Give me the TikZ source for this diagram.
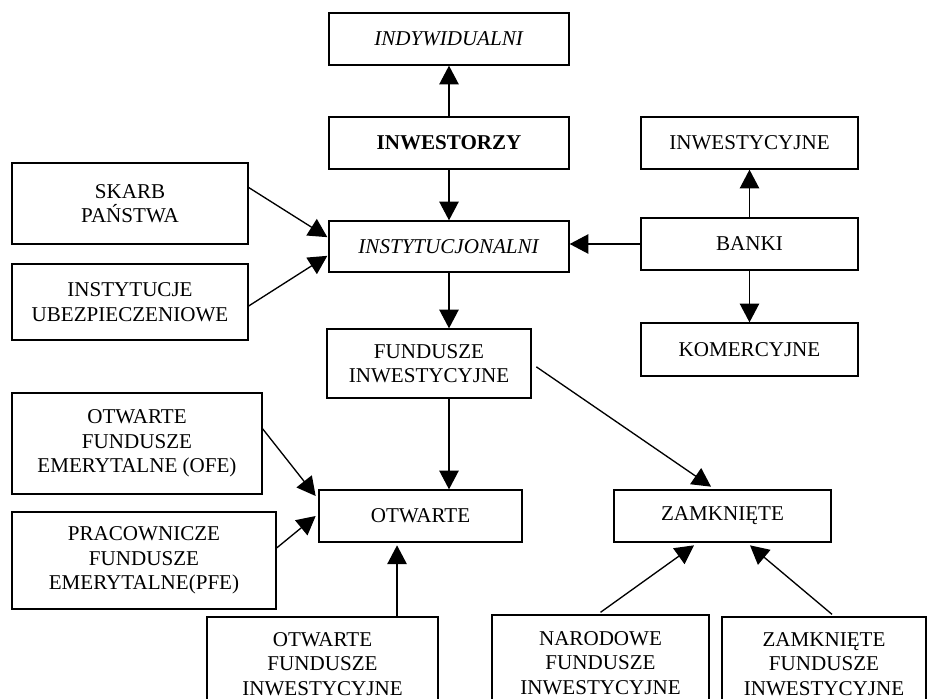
\documentclass[tikz,border=0pt]{standalone}
\usepackage{fontspec}
\setmainfont{Liberation Serif}
\usetikzlibrary{arrows.meta}

\tikzset{
  box/.style={draw, line width=1pt, inner sep=0pt, align=center,
    font=\fontsize{15.8}{18.4}\selectfont},
  arr/.style={line width=1pt, -{Triangle[length=14pt, width=14.5pt]}}
}

\begin{document}
\begin{tikzpicture}[x=0.75pt, y=-0.75pt]
  \clip (0,0) rectangle (928,699);

  % investors
  \node[box, minimum width=180pt, minimum height=39pt] (indyw) at (449,39) {\textit{INDYWIDUALNI}};
  \node[box, minimum width=180pt, minimum height=39pt] (inwest) at (449,143) {\textbf{INWESTORZY}};
  \node[box, minimum width=180pt, minimum height=38.25pt] (inst) at (449,246.5) {\textit{INSTYTUCJONALNI}};
  \node[box, minimum width=177pt, minimum height=60.75pt] (skarb) at (130,203.5) {SKARB\\PAŃSTWA};
  \node[box, minimum width=177pt, minimum height=57pt] (ubezp) at (130,302) {INSTYTUCJE\\UBEZPIECZENIOWE};

  % banks
  \node[box, minimum width=162.75pt, minimum height=39pt] (binw) at (749.5,143) {INWESTYCYJNE};
  \node[box, minimum width=162.75pt, minimum height=39pt] (banki) at (749.5,244) {BANKI};
  \node[box, minimum width=162.75pt, minimum height=39.75pt] (komerc) at (749.5,349.5) {KOMERCYJNE};

  % funds
  \node[box, minimum width=153pt, minimum height=51.75pt] (fund) at (429,363.5) {FUNDUSZE\\INWESTYCYJNE};
  \node[box, minimum width=187.5pt, minimum height=75.75pt] (ofe) at (137,443.5) {OTWARTE\\FUNDUSZE\\EMERYTALNE (OFE)};
  \node[box, minimum width=198pt, minimum height=72.75pt] (pfe) at (144,560.5) {PRACOWNICZE\\FUNDUSZE\\EMERYTALNE(PFE)};
  \node[box, minimum width=152.25pt, minimum height=39pt] (otw) at (420.5,516) {OTWARTE};
  \node[box, minimum width=162.75pt, minimum height=39pt] (zamk) at (722.5,516) {ZAMKNIĘTE};
  \node[box, minimum width=173.25pt, minimum height=70.5pt] (otwfi) at (322.5,664) {OTWARTE\\FUNDUSZE\\INWESTYCYJNE};
  \node[box, minimum width=162.75pt, minimum height=72pt] (nar) at (600.5,663) {NARODOWE\\FUNDUSZE\\INWESTYCYJNE};
  \node[box, minimum width=153pt, minimum height=70.5pt] (zfi) at (824,664) {ZAMKNIĘTE\\FUNDUSZE\\INWESTYCYJNE};

  % arrows
  \draw[arr] (inwest.north) -- (indyw.south);
  \draw[arr] (inwest.south) -- (inst.north);
  \draw[arr] ([yshift=12pt]skarb.east) -- ([xshift=-0.75pt, yshift=7pt]inst.west);
  \draw[arr] ([yshift=-3pt]ubezp.east) -- ([xshift=-0.75pt, yshift=-7pt]inst.west);
  \draw[arr] (banki.west) -- (banki.west -| inst.east);
  \draw[arr] (banki.north) -- (binw.south);
  \draw[arr] (banki.south) -- (komerc.north);
  \draw[arr] (inst.south) -- (inst.south |- fund.north);
  \draw[arr] (fund.south -| inst.south) -- (otw.north -| inst.south);
  \draw[arr] ([xshift=3.5pt, yshift=-2.5pt]fund.east) -- ([xshift=-8.6pt, yshift=2pt]zamk.north);
  \draw[arr] ([yshift=11pt]ofe.east) -- ([xshift=-2pt, yshift=15pt]otw.west);
  \draw[arr] ([yshift=9.4pt]pfe.east) -- ([xshift=-2pt]otw.west);
  \draw[arr] ([xshift=-17.6pt]otw.south |- otwfi.north) -- ([xshift=-17.6pt, yshift=-2pt]otw.south);
  \draw[arr] ([yshift=1.5pt]nar.north) -- ([xshift=-21.4pt, yshift=-2pt]zamk.south);
  \draw[arr] ([xshift=6pt, yshift=1.5pt]zfi.north) -- ([xshift=20.6pt, yshift=-2pt]zamk.south);
\end{tikzpicture}
\end{document}
